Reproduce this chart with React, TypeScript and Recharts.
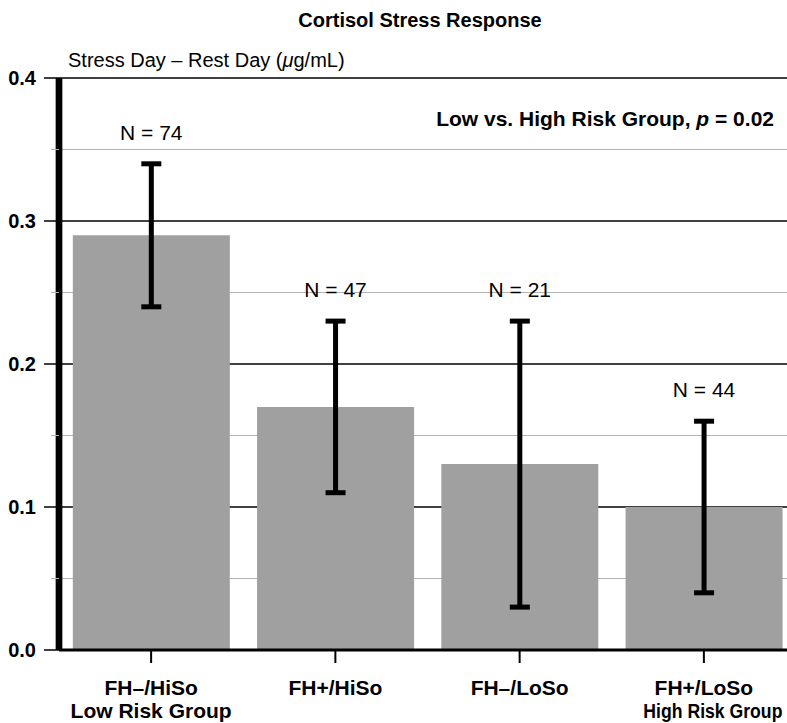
import React from 'react';
import { BarChart, Bar, XAxis, YAxis, CartesianGrid, ErrorBar, LabelList } from 'recharts';

const groups = ['FH–/HiSo', 'FH+/HiSo', 'FH–/LoSo', 'FH+/LoSo'];
const riskLabels = ['Low Risk Group', '', '', 'High Risk Group'];
const meanChange = [0.29, 0.17, 0.13, 0.1];
const lowerLimit = [0.24, 0.11, 0.03, 0.04];
const upperLimit = [0.34, 0.23, 0.23, 0.16];
const sampleSizes = [74, 47, 21, 44];
const majorTicks = [0, 0.1, 0.2, 0.3, 0.4];
const minorTicks = [0.05, 0.15, 0.25, 0.35];

const data = groups.map((g, i) => ({
  group: g,
  value: meanChange[i],
  err: [meanChange[i] - lowerLimit[i], upperLimit[i] - meanChange[i]],
  n: sampleSizes[i],
}));

const FONT = '"Liberation Sans", Arial, Helvetica, sans-serif';
const PLOT_LEFT = 59;

const ValueTick = (props: any) => {
  const { y, payload } = props;
  const v = Number(payload.value);
  const major = majorTicks.some((t) => Math.abs(t - v) < 1e-6);
  if (!major) {
    return <line x1={51} x2={PLOT_LEFT} y1={y} y2={y} stroke='#b4b4b4' strokeWidth={1} />;
  }
  return (
    <g>
      <line x1={44} x2={PLOT_LEFT} y1={y} y2={y} stroke='#000' strokeWidth={1.5} />
      <text x={36} y={y + 7} textAnchor='end' fontFamily={FONT} fontWeight='bold' fontSize={20} fill='#000'>
        {v.toFixed(1)}
      </text>
    </g>
  );
};

const GroupTick = (props: any) => {
  const { x, payload } = props;
  const i = groups.indexOf(payload.value);
  const risk = riskLabels[i];
  const last = i === groups.length - 1;
  return (
    <g fontFamily={FONT} fontWeight='bold' fontSize={21} fill='#000'>
      <text x={x} y={695} textAnchor='middle'>
        {payload.value}
      </text>
      {risk &&
        (last ? (
          // squeezed so it stays inside the right edge, as in the original
          <text transform={`translate(${x + 9}, 718) scale(0.84, 1)`} x={0} y={0} textAnchor='middle'>
            {risk}
          </text>
        ) : (
          <text x={x} y={718} textAnchor='middle'>
            {risk}
          </text>
        ))}
    </g>
  );
};

const NLabel = (props: any) => {
  const vb = props.viewBox || {};
  const x = Number(props.x ?? vb.x);
  const y = Number(props.y ?? vb.y);
  const w = Number(props.width ?? vb.width);
  const h = Number(props.height ?? vb.height);
  const i = props.index;
  const base = y + h;
  const yHigh = base - (upperLimit[i] * h) / meanChange[i];
  return (
    <text x={x + w / 2} y={yHigh - 24} textAnchor='middle' fontFamily={FONT} fontSize={21} fill='#000'>
      N = {props.value}
    </text>
  );
};

const CortisolChart = () => {
  return (
    <div style={{ position: 'absolute', left: 0, top: 0, width: 787, height: 723, overflow: 'hidden', background: '#fff' }}>
      <BarChart
        width={796}
        height={723}
        data={data}
        margin={{ top: 78, right: 0, bottom: 0, left: 0 }}
        barCategoryGap='7.5%'
      >
        <CartesianGrid horizontal vertical={false} horizontalValues={minorTicks} stroke='#b4b4b4' strokeWidth={1} />
        <CartesianGrid horizontal vertical={false} horizontalValues={majorTicks.slice(1)} stroke='#000' strokeWidth={1.5} />
        <XAxis
          dataKey='group'
          height={73}
          axisLine={{ stroke: '#000', strokeWidth: 3 }}
          tickLine={{ stroke: '#000', strokeWidth: 2 }}
          tickSize={13}
          tick={<GroupTick />}
          interval={0}
        />
        <YAxis
          type='number'
          domain={[0, 0.4]}
          ticks={[...majorTicks, ...minorTicks].sort((a, b) => a - b)}
          interval={0}
          width={PLOT_LEFT}
          axisLine={{ stroke: '#000', strokeWidth: 6.7 }}
          tickLine={false}
          tick={<ValueTick />}
        />
        <Bar dataKey='value' fill='#a0a0a0' isAnimationActive={false}>
          <ErrorBar dataKey='err' direction='y' width={10} stroke='#000' strokeWidth={5} isAnimationActive={false} />
          <LabelList dataKey='n' content={(p: any) => <NLabel {...p} />} />
        </Bar>
      </BarChart>
      <svg width={787} height={723} style={{ position: 'absolute', left: 0, top: 0, pointerEvents: 'none' }}>
        <text x={420} y={27} textAnchor='middle' fontFamily={FONT} fontWeight='bold' fontSize={20} fill='#000'>
          Cortisol Stress Response
        </text>
        <text x={68} y={67} fontFamily={FONT} fontSize={20} fill='#000'>
          Stress Day – Rest Day (<tspan fontStyle='italic'>μ</tspan>g/mL)
        </text>
        <text x={774} y={126} textAnchor='end' fontFamily={FONT} fontWeight='bold' fontSize={21} fill='#000'>
          Low vs. High Risk Group, <tspan fontStyle='italic'>p</tspan> = 0.02
        </text>
      </svg>
    </div>
  );
};

export default function App() {
  return <CortisolChart />;
}
